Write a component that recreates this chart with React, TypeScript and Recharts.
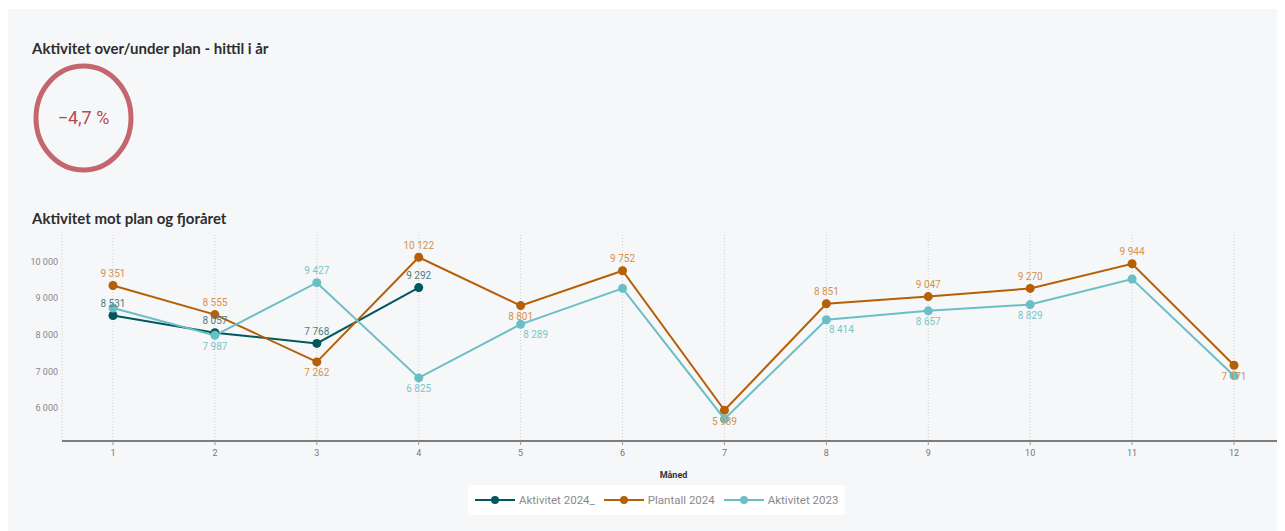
import React from 'react';
import {
  LineChart,
  Line,
  XAxis,
  YAxis,
  CartesianGrid,
  Legend,
  LabelList
} from 'recharts';

const months = ['1', '2', '3', '4', '5', '6', '7', '8', '9', '10', '11', '12'];
const aktivitet2024 = [8531, 8057, 7768, 9292];
const plantall2024 = [9351, 8555, 7262, 10122, 8801, 9752, 5939, 8851, 9047, 9270, 9944, 7171];
const aktivitet2023 = [8735, 7987, 9427, 6825, 8289, 9270, 5702, 8414, 8657, 8829, 9527, 6885];
const yTicks = [6000, 7000, 8000, 9000, 10000];

// where each value label sits (null = hidden, as in the source)
const labels2024 = ['top', 'top', 'top', 'top'];
const labelsPlan = ['top', 'top', 'bottom', 'top', 'bottom', 'top', 'bottom', 'top', 'top', 'top', 'top', 'bottom'];
const labels2023 = [null, 'bottom', 'top', 'bottom', 'bottomRight', null, null, 'bottomRight', 'bottom', 'bottom', null, null];

const chartData = months.map((m, i) => ({
  month: m,
  akt2024: aktivitet2024[i],
  plan2024: plantall2024[i],
  akt2023: aktivitet2023[i],
}));

const DARK = '#00585a';
const ORANGE = '#b65f06';
const LIGHT = '#6bbfc4';

const fmt = (v: number) => String(v).replace(/\B(?=(\d{3})+(?!\d))/g, ' ');

const valueLabel = (color: string, places: (string | null)[]) => (props: any) => {
  const { x, y, value, index } = props;
  const place = places[index];
  if (value == null || !place) return null;
  let dx = 0;
  let dy = -12;
  if (place === 'bottom') dy = 11;
  if (place === 'bottomRight') {
    dy = 10;
    dx = 15;
  }
  return (
    <text
      x={x + dx}
      y={y + dy}
      fill={color}
      fontSize={10}
      fontFamily="Roboto, sans-serif"
      textAnchor="middle"
      dominantBaseline="central"
    >
      {fmt(value)}
    </text>
  );
};

const legendItems = [
  { name: 'Aktivitet 2024_', color: DARK },
  { name: 'Plantall 2024', color: ORANGE },
  { name: 'Aktivitet 2023', color: LIGHT },
];

const CustomLegend = () => (
  <div style={{ paddingTop: 4 }}>
    <div
      style={{
        background: '#fff',
        height: 30,
        display: 'inline-flex',
        alignItems: 'center',
        whiteSpace: 'nowrap',
        padding: '0 7px',
        fontFamily: 'Roboto, sans-serif',
        fontSize: 11.5,
        color: '#8a8a8a',
      }}
    >
      {legendItems.map((it, i) => (
        <div
          key={it.name}
          style={{ display: 'flex', alignItems: 'center', marginRight: i < 2 ? 9 : 0 }}
        >
          <svg width={40} height={10} style={{ marginRight: 4 }}>
            <line x1={0} y1={5} x2={40} y2={5} stroke={it.color} strokeWidth={2} />
            <circle cx={20} cy={5} r={4} fill={it.color} />
          </svg>
          <span>{it.name}</span>
        </div>
      ))}
    </div>
  </div>
);

const titleStyle: React.CSSProperties = {
  position: 'absolute',
  left: 24,
  fontFamily: 'Lato, sans-serif',
  fontWeight: 700,
  fontSize: 15,
  lineHeight: '20px',
  color: '#2e2e2e',
  whiteSpace: 'nowrap',
};

export default function App() {
  return (
    <div
      style={{
        position: 'relative',
        width: 1277,
        height: 522,
        marginTop: 1,
        background: '#f6f7f9',
      }}
    >
      <div style={{ ...titleStyle, top: 29 }}>Aktivitet over/under plan - hittil i år</div>

      <svg width={101} height={110} style={{ position: 'absolute', left: 25, top: 54 }}>
        <ellipse cx={50.5} cy={55} rx={47.5} ry={52} fill="none" stroke="#c4666e" strokeWidth={5} />
        <text
          x={50.5}
          y={54}
          fill="#b8474f"
          fontSize={18}
          fontFamily="Roboto, sans-serif"
          textAnchor="middle"
          dominantBaseline="central"
        >
          −4,7 %
        </text>
      </svg>

      <div style={{ ...titleStyle, top: 199 }}>Aktivitet mot plan og fjoråret</div>

      <div style={{ position: 'absolute', left: 0, top: 221 }}>
        <LineChart
          width={1277}
          height={300}
          data={chartData}
          margin={{ top: 5, right: 0, left: 0, bottom: 15 }}
        >
          <CartesianGrid vertical horizontal={false} stroke="#cfcfcf" strokeDasharray="1 2" />
          <XAxis
            dataKey="month"
            padding={{ left: 51, right: 51 }}
            height={40}
            tickSize={4}
            tickMargin={5}
            tick={{ fontSize: 9, fill: '#777', fontFamily: 'Roboto, sans-serif' }}
            tickLine={{ stroke: '#999' }}
            axisLine={{ stroke: '#555', strokeWidth: 1.5 }}
            label={{
              value: 'Måned',
              position: 'insideBottom',
              offset: 3,
              fontSize: 9,
              fontWeight: 700,
              fill: '#333',
              fontFamily: 'Roboto, sans-serif',
            }}
          />
          <YAxis
            width={54}
            domain={[5100, 10730]}
            ticks={yTicks}
            axisLine={false}
            tickLine={false}
            tickSize={0}
            tickMargin={4}
            tickFormatter={fmt}
            tick={{ fontSize: 9, fill: '#888', fontFamily: 'Roboto, sans-serif' }}
          />
          <Legend
            verticalAlign="bottom"
            content={<CustomLegend />}
            wrapperStyle={{ left: 460, width: 400 }}
          />
          <Line
            dataKey="akt2024"
            name="Aktivitet 2024_"
            stroke={DARK}
            strokeWidth={2}
            dot={{ r: 4.5, fill: DARK, stroke: DARK, strokeWidth: 0 }}
            activeDot={false}
            isAnimationActive={false}
          >
            <LabelList dataKey="akt2024" content={valueLabel('#4f7c7e', labels2024)} />
          </Line>
          <Line
            dataKey="plan2024"
            name="Plantall 2024"
            stroke={ORANGE}
            strokeWidth={2}
            dot={{ r: 4.5, fill: ORANGE, stroke: ORANGE, strokeWidth: 0 }}
            activeDot={false}
            isAnimationActive={false}
          >
            <LabelList dataKey="plan2024" content={valueLabel('#d4914f', labelsPlan)} />
          </Line>
          <Line
            dataKey="akt2023"
            name="Aktivitet 2023"
            stroke={LIGHT}
            strokeWidth={2}
            dot={{ r: 4.5, fill: LIGHT, stroke: LIGHT, strokeWidth: 0 }}
            activeDot={false}
            isAnimationActive={false}
          >
            <LabelList dataKey="akt2023" content={valueLabel('#7cc4c8', labels2023)} />
          </Line>
        </LineChart>
      </div>
    </div>
  );
}
